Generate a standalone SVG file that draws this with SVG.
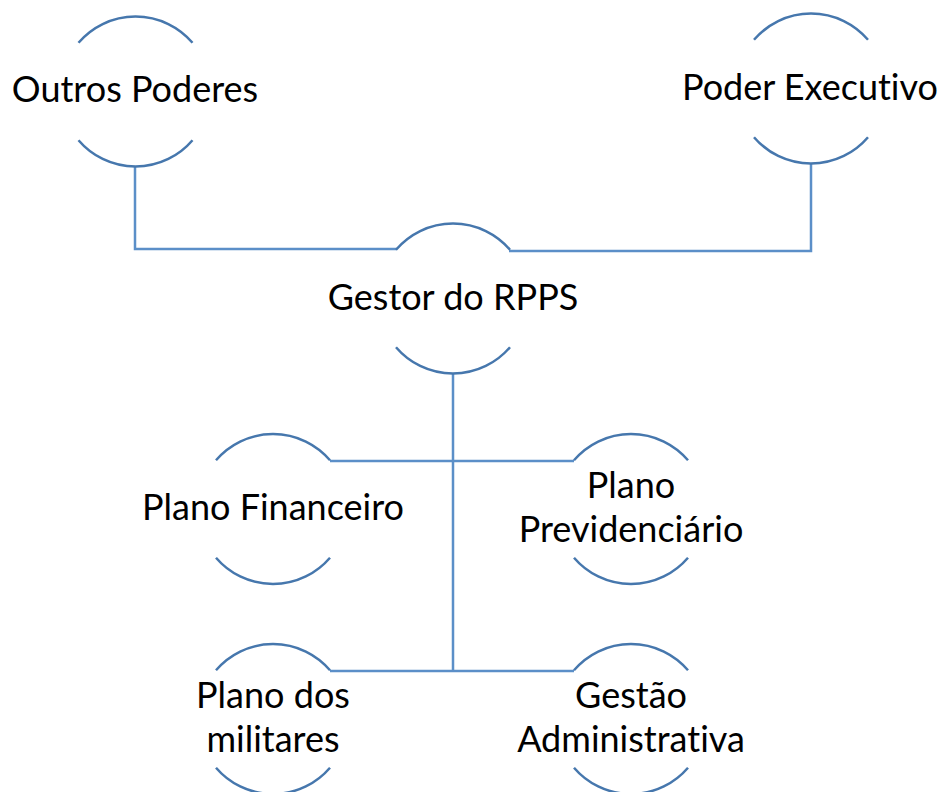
<svg xmlns="http://www.w3.org/2000/svg" width="941" height="792" viewBox="0 0 941 792">
<style>
.arc{fill:none;stroke:#4677ad;stroke-width:2.5}
.con{fill:none;stroke:#5b8fc8;stroke-width:2.5}
text{font-family:Lato,"Liberation Sans",sans-serif;font-size:36px;fill:#000;text-anchor:middle;font-variant-ligatures:none}
</style>
<rect width="941" height="792" fill="#fff"/>
<g id="connectors">
<path class="con" d="M135,166 V249 H397"/>
<path class="con" d="M811,163 V251 H509"/>
<path class="con" d="M453,373 V672"/>
<path class="con" d="M330,461 H574"/>
<path class="con" d="M330,671 H574"/>
</g>
<g id="outros-poderes">
<path class="arc" d="M78.5,42.8 A75,75 0 0 1 192.5,42.8 M78.5,140.2 A75,75 0 0 0 192.5,140.2"/>
<text x="135" y="102">Outros Poderes</text>
</g>
<g id="poder-executivo">
<path class="arc" d="M754,39.8 A75,75 0 0 1 868,39.8 M754,137.2 A75,75 0 0 0 868,137.2"/>
<text x="810" y="100">Poder Executivo</text>
</g>
<g id="gestor-rpps">
<path class="arc" d="M396,249.8 A75,75 0 0 1 510,249.8 M396,347.2 A75,75 0 0 0 510,347.2"/>
<text x="453" y="310">Gestor do RPPS</text>
</g>
<g id="plano-financeiro">
<path class="arc" d="M216,460.3 A75,75 0 0 1 330,460.3 M216,557.7 A75,75 0 0 0 330,557.7"/>
<text x="273" y="520">Plano Financeiro</text>
</g>
<g id="plano-previdenciario">
<path class="arc" d="M574,460.3 A75,75 0 0 1 688,460.3 M574,557.7 A75,75 0 0 0 688,557.7"/>
<text x="631" y="498">Plano</text>
<text x="631" y="542">Previdenciário</text>
</g>
<g id="plano-militares">
<path class="arc" d="M216,670.3 A75,75 0 0 1 330,670.3 M216,767.7 A75,75 0 0 0 330,767.7"/>
<text x="273" y="708">Plano dos</text>
<text x="273" y="752">militares</text>
</g>
<g id="gestao-administrativa">
<path class="arc" d="M574,670.3 A75,75 0 0 1 688,670.3 M574,767.7 A75,75 0 0 0 688,767.7"/>
<text x="631" y="708">Gestão</text>
<text x="631" y="752">Administrativa</text>
</g>
</svg>
